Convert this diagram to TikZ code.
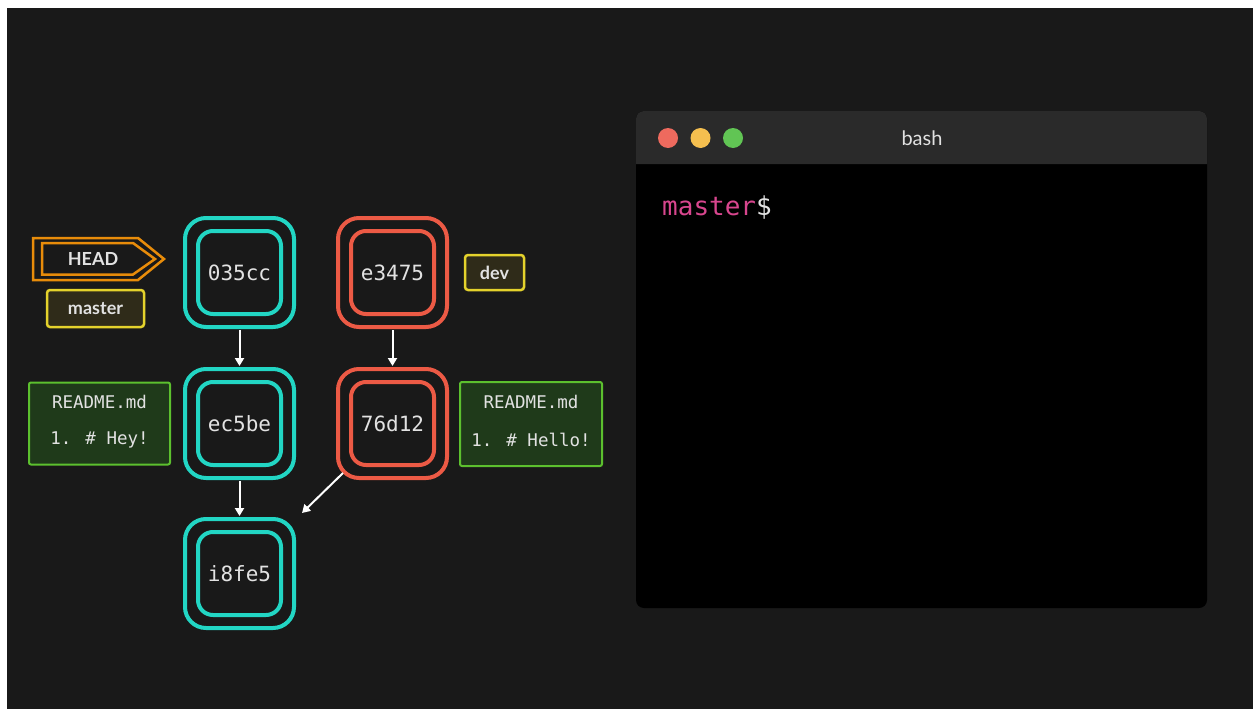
\documentclass[tikz,border=0pt]{standalone}
\usepackage{fontspec}
\newfontfamily\monof{DejaVu Sans Mono}
\newfontfamily\latof{Lato}
\usetikzlibrary{arrows.meta,calc}
\definecolor{bg}{HTML}{191919}
\definecolor{cyanc}{HTML}{22D6C4}
\definecolor{redc}{HTML}{EC5A45}
\definecolor{txt}{HTML}{E2E2E2}
\definecolor{orangec}{HTML}{E88C0A}
\definecolor{yellowc}{HTML}{E4D22C}
\definecolor{yellowfill}{HTML}{2F2B19}
\definecolor{greenc}{HTML}{5CC02E}
\definecolor{greenfill}{HTML}{1F3A1A}
\definecolor{titlebar}{HTML}{2A2A2A}
\definecolor{pinkc}{HTML}{D8468E}
\definecolor{tlred}{HTML}{EE6A5E}
\definecolor{tlyellow}{HTML}{F5BF4F}
\definecolor{tlgreen}{HTML}{61C554}
\tikzset{
  commitin/.style={draw=#1, line width=4pt, rounded corners=15pt, minimum width=83pt, minimum height=83pt, inner sep=0pt, text=txt, font=\monof\fontsize{21}{24}\selectfont},
  commitout/.style={draw=#1, line width=4pt, rounded corners=21pt, minimum width=109pt, minimum height=109pt, inner sep=0pt},
  branch/.style={draw=yellowc, fill=yellowfill, line width=2.5pt, rounded corners=3pt, inner sep=0pt, text=txt, font=\latof\bfseries\fontsize{18}{21}\selectfont},
  filebox/.style={draw=greenc, fill=greenfill, line width=2pt, rounded corners=2pt, inner sep=0pt},
  filetext/.style={text=txt, font=\monof\fontsize{17.5}{21}\selectfont, inner sep=0pt},
  headline/.style={draw=orangec, line width=2.5pt, line join=miter},
  link/.style={draw=white, line width=2pt, -{Triangle[length=8pt,width=9pt]}},
  light/.style={circle, minimum size=20pt, inner sep=0pt},
}
\begin{document}
\begin{tikzpicture}[x=1pt,y=-1pt]
\useasboundingbox (0,0) rectangle (1253,709);
\fill[white] (0,0) rectangle (1253,709);
\fill[bg] (7,8) rectangle (1253,709);

% HEAD pointer
\draw[headline] (33,238) -- (138,238) -- (164,259) -- (138,280) -- (33,280) -- cycle;
\draw[headline] (42,243) -- (133,243) -- (155,259) -- (133,274.5) -- (42,274.5) -- cycle;
\node[text=txt, font=\latof\bfseries\fontsize{18}{21}\selectfont, inner sep=0pt] (head) at (93,259) {HEAD};

% branches
\node[branch, minimum width=97pt, minimum height=37pt] (master) at (95.5,308.5) {master};
\node[branch, minimum width=59pt, minimum height=35pt] (dev) at (494.5,272.5) {dev};

% commits
\node[commitin=cyanc] (c1) at (239.5,272.5) {035cc};
\node[commitout=cyanc] (c1o) at (239.5,272.5) {};
\node[commitin=cyanc] (c2) at (239.5,423.5) {ec5be};
\node[commitout=cyanc] (c2o) at (239.5,423.5) {};
\node[commitin=cyanc] (c3) at (239.5,573.5) {i8fe5};
\node[commitout=cyanc] (c3o) at (239.5,573.5) {};
\node[commitin=redc] (r1) at (392.5,272.5) {e3475};
\node[commitout=redc] (r1o) at (392.5,272.5) {};
\node[commitin=redc] (r2) at (392.5,423.5) {76d12};
\node[commitout=redc] (r2o) at (392.5,423.5) {};

% connectors
\draw[link, shorten <=1pt, shorten >=1pt] (c1o.south) -- (c2o.north);
\draw[link, shorten <=1pt, shorten >=1pt] (r1o.south) -- (r2o.north);
\draw[link, shorten <=1pt, shorten >=1pt] (c2o.south) -- (c3o.north);
\coordinate (dstart) at ($(r2o.south west)+(7,-7)$);
\coordinate (dend) at ($(c3o.north east)+(6,-4)$);
\draw[link] (dstart) -- (dend);

% files
\node[filebox, minimum width=141pt, minimum height=82pt] (fileL) at (99.5,423.5) {};
\node[filetext] (fileLa) at (99.5,402) {README.md};
\node[filetext] (fileLb) at (99.5,440) {1. \# Hey!};
\node[filebox, minimum width=142pt, minimum height=84pt] (fileR) at (531,424) {};
\node[filetext] (fileRa) at (531,402) {README.md};
\node[filetext] (fileRb) at (531,440) {1. \# Hello!};

% terminal
\node[fill=black, rounded corners=8pt, minimum width=571pt, minimum height=497pt, inner sep=0pt] (term) at (921.5,359.5) {};
\fill[titlebar] (636,164) {[rounded corners=8pt] -- (636,111) -- (1207,111)} -- (1207,164) -- cycle;
\node[light, fill=tlred] (l1) at (668,138) {};
\node[light, fill=tlyellow] (l2) at (700.5,138) {};
\node[light, fill=tlgreen] (l3) at (733,138) {};
\node[text=txt, font=\latof\fontsize{20}{24}\selectfont, inner sep=0pt] (title) at (922,138) {bash};
\node[anchor=base west, inner sep=0pt, font=\monof\fontsize{26}{30}\selectfont] (prompt) at (662,215) {\textcolor{pinkc}{master}\textcolor{txt}{\$}};
\end{tikzpicture}
\end{document}
